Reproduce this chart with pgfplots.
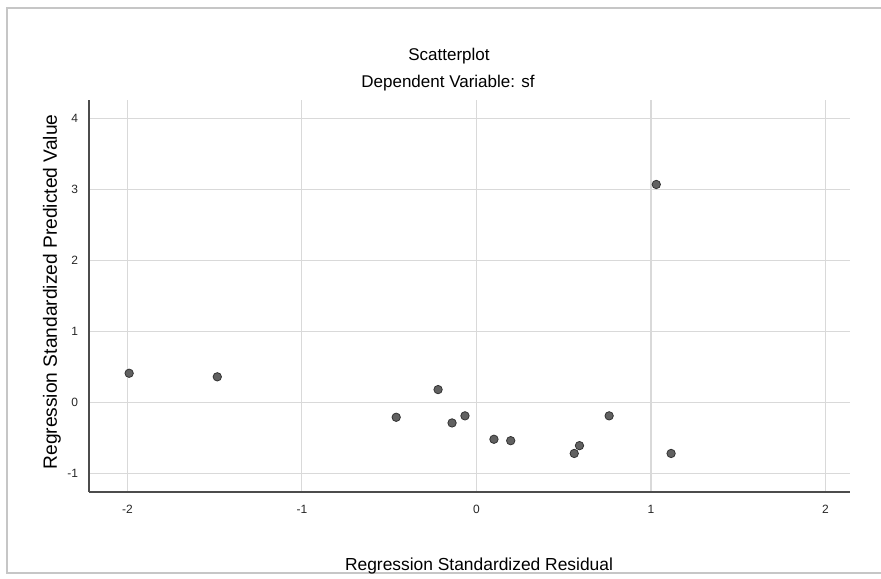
\documentclass[border=0pt]{standalone}
\usepackage{pgfplots}
\pgfplotsset{compat=1.18}
\usepackage{fontspec}
\setmainfont{Liberation Sans}
\begin{document}
\begin{tikzpicture}
\useasboundingbox (0,0) rectangle (440.5pt,289pt);
\draw[gray!45, line width=1.2pt] (3.5pt,2.5pt) rectangle (441pt,285pt);
\begin{axis}[
  at={(44.5pt,43pt)}, anchor=south west,
  scale only axis, width=380.5pt, height=196pt,
  xmin=-2.22, xmax=2.14, ymin=-1.263, ymax=4.26,
  axis x line=bottom, axis y line=left,
  axis line style={-, draw=black!70, line width=0.6pt},
  xtick={-2,-1,0,1,2}, ytick={-1,0,1,2,3,4},
  major tick length=0pt,
  grid=major, major grid style={draw=black!15, line width=0.55pt},
  tick label style={font=\fontsize{6}{7}\selectfont, text=black!85},
  /pgf/number format/assume math mode=true,
  xticklabel style={yshift=-3pt},
  yticklabel style={xshift=-2pt},
  clip=false,
]
\addplot[only marks, mark=*, mark size=2.1pt, mark options={fill=black!62, draw=black!80, line width=0.4pt}] coordinates {
(-1.99,0.41) (-1.485,0.36) (-0.22,0.18) (-0.46,-0.21) (-0.14,-0.29) (-0.066,-0.19)
(0.10,-0.52) (0.196,-0.54) (0.56,-0.72) (0.59,-0.61) (0.76,-0.19) (1.115,-0.72) (1.03,3.07)
};
\end{axis}
\node[font=\fontsize{8.5}{10}\selectfont] at (224.5pt,261pt) {Scatterplot};
\node[font=\fontsize{8.5}{10}\selectfont] at (224pt,247.5pt) {Dependent Variable: sf};
\node[font=\fontsize{8.7}{10}\selectfont] at (239.5pt,6pt) {Regression Standardized Residual};
\node[font=\fontsize{9.6}{10}\selectfont, rotate=90] at (26pt,143pt) {Regression Standardized Predicted Value};
\end{tikzpicture}
\end{document}
